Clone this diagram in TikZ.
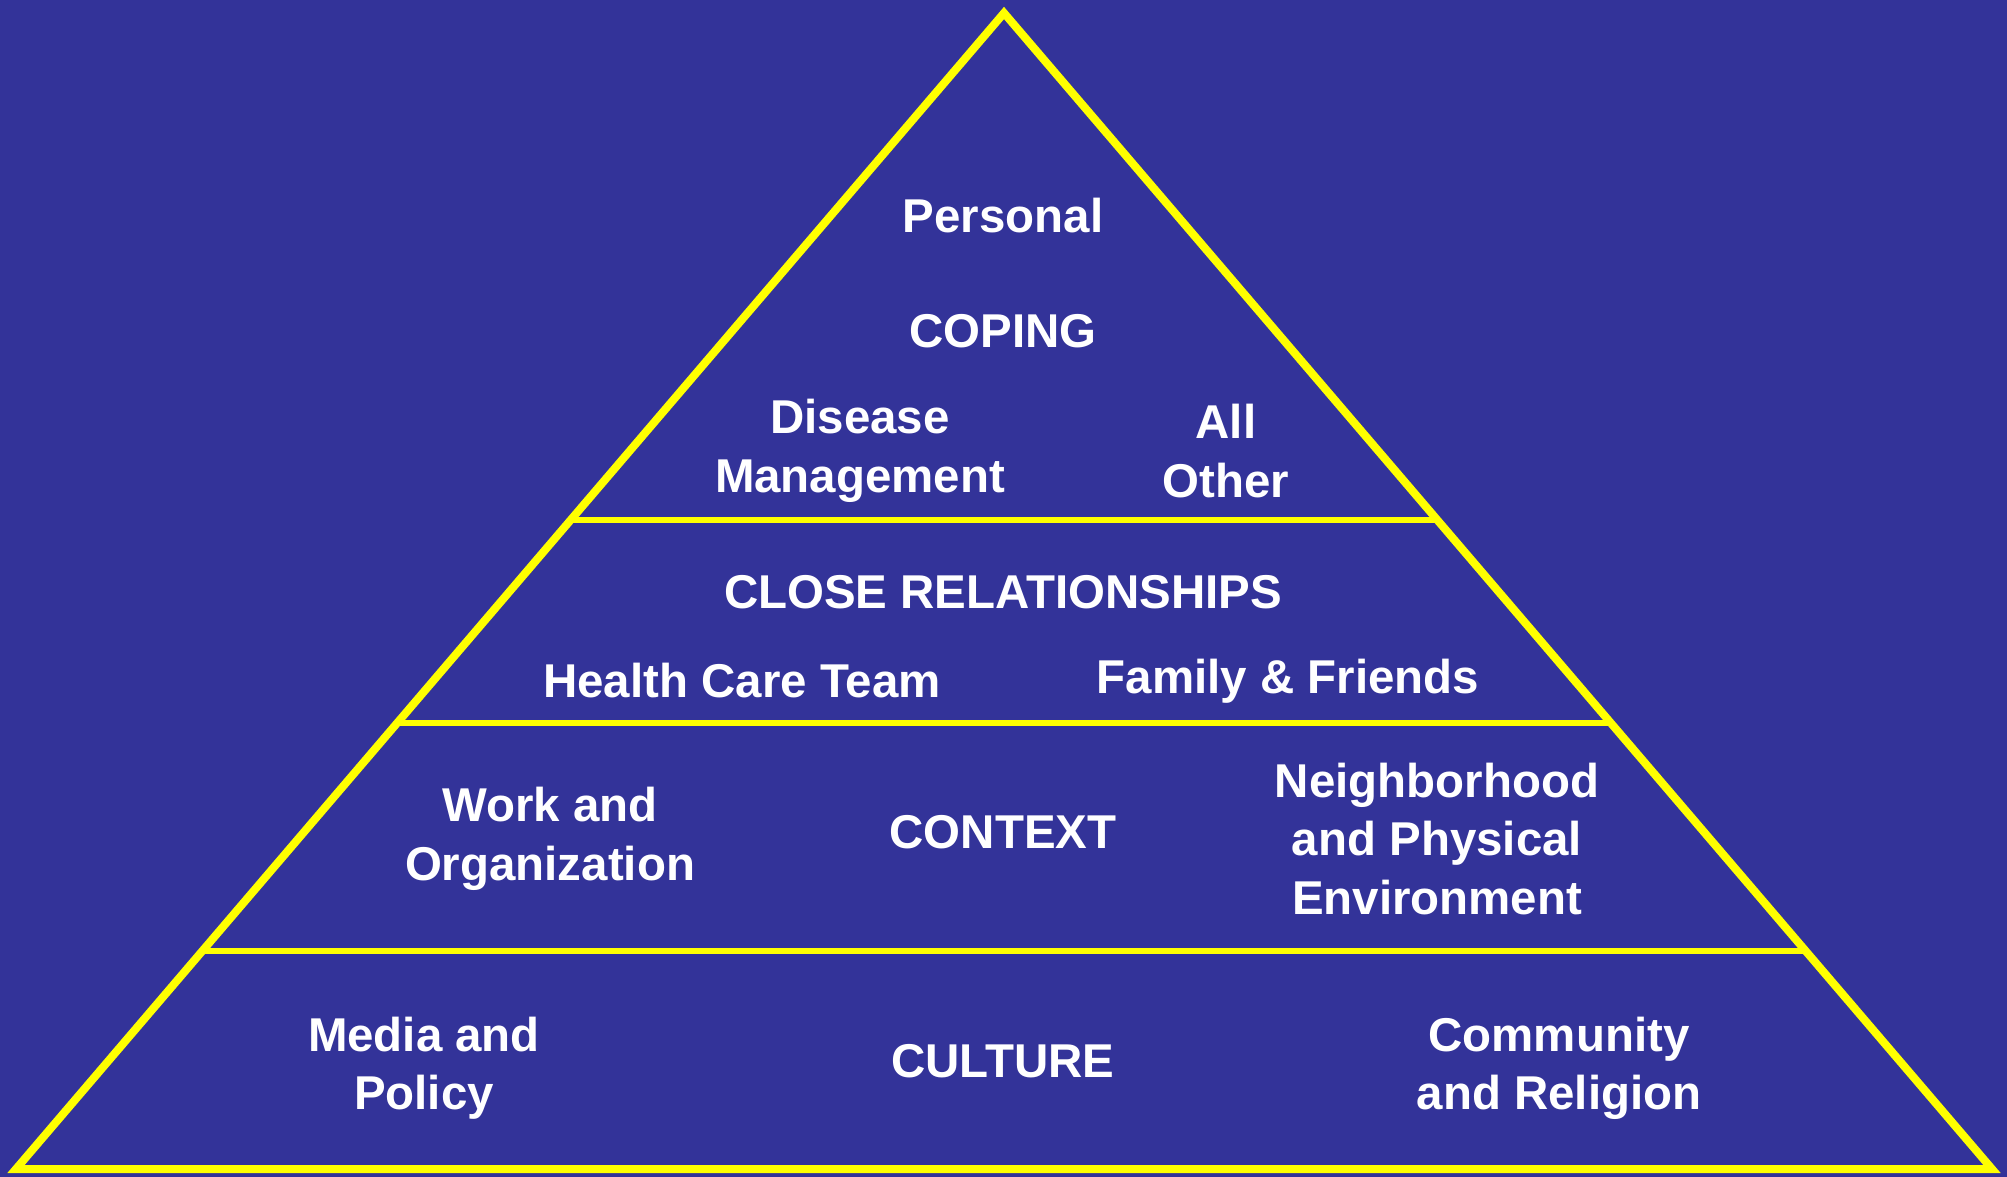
\documentclass[tikz,border=0pt]{standalone}
\usepackage{fontspec}
\setmainfont{Liberation Sans}
\usepackage{xcolor}
\usetikzlibrary{calc}

\definecolor{slidebg}{HTML}{333399}
\definecolor{pyryellow}{HTML}{FFFF00}

\tikzset{
  level/.style={text=white, font=\bfseries\fontsize{13.5}{16.6}\selectfont, align=center},
  edge/.style={draw=pyryellow, line width=0.8mm, line join=miter},
  tier/.style={draw=pyryellow, line width=0.6mm}
}

\begin{document}
\begin{tikzpicture}[x=0.1mm,y=-0.1mm]
            \fill [slidebg] (0,0) rectangle (2007,1177);

            \coordinate (top) at (1004,13);
            \coordinate (bl) at (16,1169);
            \coordinate (br) at (1992,1169);

            \draw [edge] (top) -- (bl) -- (br) -- cycle;

            \draw [tier] ($(bl)!0.5614!(top)$) -- ($(br)!0.5614!(top)$);
            \draw [tier] ($(bl)!0.3858!(top)$) -- ($(br)!0.3858!(top)$);
            \draw [tier] ($(bl)!0.1886!(top)$) -- ($(br)!0.1886!(top)$);

            \node [level] (personal) at (1003,216) {Personal};
            \node [level] (coping) at (1003,331) {COPING};
            \node [level] (disease) at (860,451) {Disease\\Management};
            \node [level] (allother) at (1226,451) {All\\Other};

            \node [level] (close) at (1003,592) {CLOSE RELATIONSHIPS};
            \node [level] (team) at (742,681) {Health Care Team};
            \node [level] (family) at (1288,681) {Family \& Friends};

            \node [level] (work) at (550,839) {Work and\\Organization};
            \node [level] (context) at (1003,832) {CONTEXT};
            \node [level] (neighbor) at (1437,839) {Neighborhood\\and Physical\\Environment};

            \node [level] (media) at (424,1068) {Media and\\Policy};
            \node [level] (culture) at (1003,1061) {CULTURE};
            \node [level] (community) at (1559,1068) {Community\\and Religion};
\end{tikzpicture}
\end{document}
